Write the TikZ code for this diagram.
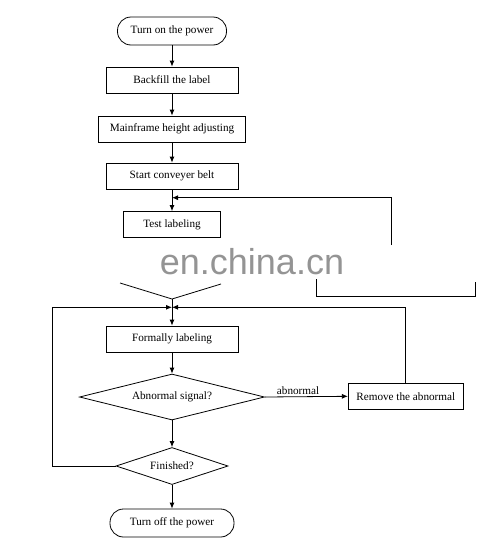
\documentclass[tikz,border=0pt]{standalone}
\usepackage{fontspec}
\setmainfont{Liberation Serif}
\newfontfamily\wmfont{Liberation Sans}
\usetikzlibrary{shapes.geometric,arrows.meta}
\begin{document}
\begin{tikzpicture}[x=1pt,y=-1pt,
  every node/.style={font=\fontsize{11.2}{13}\selectfont},
  line/.style={line width=0.8pt},
  arr/.style={line width=0.8pt,-{Latex[length=6pt,width=5pt]}},
  box/.style={draw,line width=0.8pt,rectangle,minimum width=#1,minimum height=26pt,inner sep=0pt},
  term/.style={draw,line width=0.8pt,rectangle,rounded corners=13.5pt,minimum width=#1,minimum height=28pt,inner sep=0pt},
  dia/.style={draw,line width=0.8pt,diamond,inner sep=0pt}]
\useasboundingbox (0,0) rectangle (503,552);

\node[term=109pt] (on) at (172,31) {Turn on the power};
\node[box=132pt] (backfill) at (172,80) {Backfill the label};
\node[box=147pt] (mainframe) at (172,129) {Mainframe height adjusting};
\node[box=132pt] (start) at (172,176) {Start conveyer belt};
\node[box=97pt] (test) at (172,224.5) {Test labeling};
\node[box=132pt] (formal) at (172,339) {Formally labeling};
\node[dia,aspect=4.02,minimum width=185pt,minimum height=46pt] (abn) at (172,397) {Abnormal signal?};
\node[box=115pt] (remove) at (405.8,396.3) {Remove the abnormal};
\node[dia,aspect=3.03,minimum width=112pt,minimum height=37pt] (fin) at (172,466) {Finished?};
\node[term=124pt] (off) at (172,523) {Turn off the power};

\coordinate (j1) at (172,197.7);
\coordinate (r1) at (391,245);
\coordinate (dl) at (120,283);
\coordinate (db) at (172,299);
\coordinate (dr) at (221,284);
\coordinate (bl) at (316.7,279);
\coordinate (bbl) at (316.7,296.7);
\coordinate (bbr) at (475.7,296.7);
\coordinate (br) at (475.7,282);
\coordinate (j2) at (172,307.3);
\coordinate (lc) at (52.7,307.3);

\draw[arr] (on) -- (backfill);
\draw[arr] (backfill) -- (mainframe);
\draw[arr] (mainframe) -- (start);
\draw[arr] (start) -- (test);
\draw[arr] (r1) |- (j1);
\draw[line] (dl) -- (db) -- (dr);
\draw[line] (bl) -- (bbl) -- (bbr) -- (br);
\draw[arr] (db) -- (formal);
\draw[arr] (fin.west) -| (lc) -- (j2);
\draw[arr] (remove.north) |- (j2);
\draw[arr] (formal) -- (abn);
\draw[arr] (abn.east) -- node[above,pos=0.4,inner sep=1.5pt] {abnormal} (remove.west);
\draw[arr] (abn) -- (fin);
\draw[arr] (fin) -- (off);

\node[text=black!42,font=\wmfont\fontsize{36}{40}\selectfont] (wm) at (252,262) {en.china.cn};
\end{tikzpicture}
\end{document}
